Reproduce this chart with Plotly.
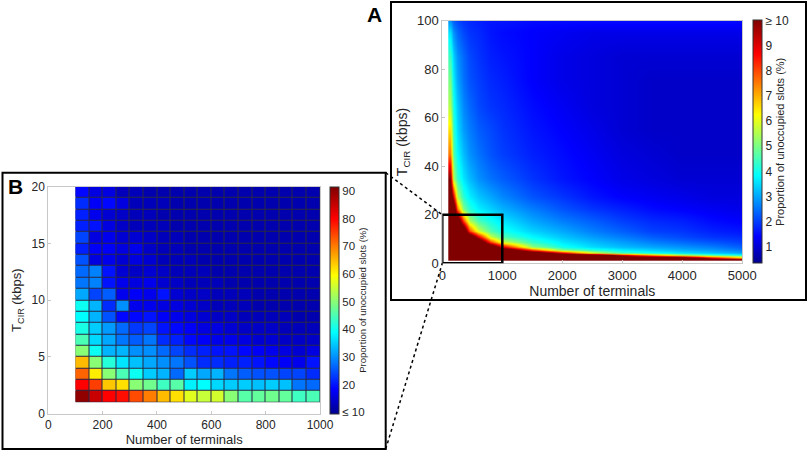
import plotly.graph_objects as go

# ---- panel A: overview (coarse read-out of the dense map) ----
a_terminals = [125, 175, 250, 350, 450, 600, 800, 1000, 1500, 2000, 2500, 3000, 3500, 4000, 4500, 5000]
a_rate = [1.5, 2.5, 3.5, 4.5, 5.5, 7, 9, 11, 13.5, 17.5, 22.5, 27.5, 35, 45, 55, 65, 75, 85, 95, 100]
a_unocc = [
    [12, 12, 12, 12, 12, 12, 12, 12, 12, 12, 12, 12, 12, 12, 12, 12],
    [12, 12, 12, 12, 12, 12, 12, 12, 12, 12, 12, 12, 12, 12, 9, 7],
    [12, 12, 12, 12, 12, 12, 12, 12, 12, 12, 12, 9, 7, 5.5, 4.5, 4],
    [12, 12, 12, 12, 12, 12, 12, 12, 12, 9, 6, 4.5, 4, 3.6, 3.3, 3],
    [12, 12, 12, 12, 12, 12, 12, 12, 8, 5, 4.2, 3.7, 3.4, 3.1, 2.9, 2.6],
    [12, 12, 12, 12, 12, 12, 12, 9, 5.2, 4, 3.5, 3.2, 3.0, 2.8, 2.6, 2.3],
    [12, 12, 12, 12, 12, 12, 8, 5.8, 4.3, 3.6, 3.2, 2.9, 2.6, 2.4, 2.2, 2.0],
    [12, 12, 12, 12, 12, 9, 5.8, 4.6, 3.8, 3.3, 2.9, 2.6, 2.3, 2.1, 1.9, 1.8],
    [12, 12, 12, 12, 8, 5.8, 4.6, 4.0, 3.4, 3.0, 2.6, 2.3, 2.0, 1.9, 1.7, 1.6],
    [12, 12, 12, 8, 5.5, 4.5, 4.0, 3.6, 3.0, 2.6, 2.3, 2.0, 1.8, 1.7, 1.5, 1.4],
    [12, 12, 7.5, 5, 4.2, 3.7, 3.4, 3.1, 2.6, 2.2, 1.9, 1.7, 1.5, 1.4, 1.3, 1.2],
    [12, 9, 5.5, 4.2, 3.7, 3.3, 3.0, 2.7, 2.2, 1.9, 1.6, 1.4, 1.3, 1.2, 1.1, 1.1],
    [10, 5.5, 4.3, 3.6, 3.2, 2.8, 2.5, 2.3, 1.9, 1.6, 1.4, 1.2, 1.1, 1.0, 1.0, 1.0],
    [7.5, 4.6, 3.8, 3.2, 2.8, 2.5, 2.2, 2.0, 1.7, 1.5, 1.3, 1.1, 1.0, 0.9, 0.9, 0.9],
    [6.5, 4.3, 3.5, 2.9, 2.6, 2.3, 2.1, 1.9, 1.6, 1.4, 1.2, 1.0, 0.9, 0.9, 0.9, 0.9],
    [5.5, 4.0, 3.3, 2.7, 2.4, 2.1, 1.9, 1.8, 1.5, 1.3, 1.1, 1.0, 0.9, 0.9, 0.9, 0.9],
    [5, 3.7, 3.0, 2.5, 2.2, 2.0, 1.8, 1.7, 1.4, 1.2, 1.1, 1.0, 0.9, 0.9, 0.9, 0.9],
    [4.4, 3.4, 2.8, 2.4, 2.1, 1.9, 1.7, 1.6, 1.4, 1.2, 1.1, 1.0, 1.0, 1.0, 1.0, 1.0],
    [3.6, 2.8, 2.4, 2.1, 1.9, 1.8, 1.6, 1.5, 1.4, 1.3, 1.2, 1.2, 1.2, 1.2, 1.2, 1.2],
    [2.8, 2.3, 2.1, 1.9, 1.8, 1.7, 1.6, 1.6, 1.5, 1.5, 1.5, 1.5, 1.5, 1.5, 1.5, 1.5],
]
a_ticks = [1, 2, 3, 4, 5, 6, 7, 8, 9, 10]
a_ticktext = ["1", "2", "3", "4", "5", "6", "7", "8", "9", "\u2265 10"]

# ---- panel B: zoom on 100-1000 terminals, 1-20 kbps ----
b_terminals = [125, 175, 225, 275, 325, 375, 425, 475, 525, 575, 625, 675, 725, 775, 825, 875, 925, 975]
b_rate = [1.5, 2.5, 3.5, 4.5, 5.5, 6.5, 7.5, 8.5, 9.5, 10.5, 11.5, 12.5, 13.5, 14.5, 15.5, 16.5, 17.5, 18.5, 19.5]
b_unocc = [
    [90, 85, 80, 79, 74, 70, 65, 62, 57, 55, 56, 50, 46, 47, 48, 47, 44, 45],
    [80, 75, 64, 62, 50, 48, 44, 46, 38, 39, 36, 35, 35, 34, 35, 34, 28, 27],
    [72, 61, 50, 45, 40, 35, 33, 27, 35, 32, 33, 28, 26, 25, 25, 24, 24, 22],
    [65, 50, 42, 37, 34, 32, 30, 28, 25, 22, 22, 21, 21, 20, 19, 18, 17, 20],
    [50, 40, 33, 33, 30, 30, 27, 24, 22, 21, 20, 20, 19, 18, 17, 16, 15, 16],
    [45, 36, 32, 28, 26, 28, 22, 21, 19, 18, 17, 17, 16, 15, 15, 14, 14, 14],
    [41, 35, 31, 27, 23, 24, 20, 19, 18, 16, 16, 15, 14, 14, 14, 13, 13, 13],
    [39, 33, 25, 19, 19, 20, 18, 17, 16, 15, 14, 14, 13, 13, 13, 13, 12, 12],
    [40, 33, 22, 30, 17, 17, 16, 16, 15, 14, 13, 13, 13, 12, 12, 12, 12, 12],
    [32, 24, 26, 17, 18, 17, 20, 15, 14, 14, 13, 13, 13, 12, 12, 12, 12, 12],
    [28, 29, 20, 17, 16, 17, 15, 14, 13, 13, 13, 12, 12, 12, 12, 12, 12, 12],
    [27, 29, 20, 15, 14, 15, 14, 13, 13, 13, 12, 12, 12, 12, 12, 12, 12, 12],
    [25, 16, 17, 15, 16, 15, 13, 13, 13, 12, 12, 12, 12, 12, 12, 12, 12, 12],
    [21, 18, 18, 16, 17, 14, 13, 13, 12, 12, 12, 12, 12, 12, 12, 12, 12, 12],
    [24, 16, 17, 15, 15, 14, 13, 13, 12, 12, 12, 12, 12, 12, 12, 12, 12, 12],
    [21, 20, 16, 14, 13, 13, 13, 12, 12, 12, 12, 12, 12, 12, 12, 12, 12, 12],
    [21, 17, 15, 14, 13, 13, 12, 12, 12, 12, 12, 12, 12, 12, 12, 12, 12, 12],
    [22, 18, 19, 16, 13, 13, 13, 12, 12, 12, 12, 12, 12, 12, 12, 12, 12, 12],
    [19, 16, 16, 13, 13, 12, 12, 12, 12, 12, 12, 12, 12, 12, 12, 12, 12, 12],
]
b_ticks = [10, 20, 30, 40, 50, 60, 70, 80, 90]
b_ticktext = ["\u2264 10", "20", "30", "40", "50", "60", "70", "80", "90"]

# matlab-ish jet
jet = [[0, "#00008F"], [0.11, "#0000FF"], [0.36, "#00FFFF"], [0.61, "#FFFF00"],
       [0.86, "#FF0000"], [1, "#800000"]]

W, H = 809, 452
FONT = "Arial, Liberation Sans, sans-serif"
TXT = "#262626"
AXC = "#c8c8c8"

# axes positions (paper fractions)
ax_a = [442.3 / W, 742.3 / W]
ay_a = [1 - 263.3 / H, 1 - 20.7 / H]
ax_b = [48.3 / W, 320 / W]
ay_b = [1 - 413.7 / H, 1 - 186.7 / H]

fig = go.Figure()

fig.add_trace(go.Heatmap(
    x=a_terminals, y=a_rate, z=a_unocc, zsmooth="best",
    colorscale=jet, zmin=0.35, zmax=10,
    xaxis="x", yaxis="y",
    colorbar=dict(
        x=753.3 / W, xanchor="left", xpad=0, y=ay_a[0], yanchor="bottom",
        len=ay_a[1] - ay_a[0], ypad=0, thickness=9, outlinecolor="#333", outlinewidth=1,
        tickvals=a_ticks, ticktext=a_ticktext, ticks="", tickfont=dict(size=12, color=TXT),
        title=dict(text="Proportion of unoccupied slots (%)", side="right",
                   font=dict(size=11, color=TXT)),
    ),
))

fig.add_trace(go.Heatmap(
    x=b_terminals, y=b_rate, z=b_unocc, xgap=1, ygap=1,
    colorscale=jet, zmin=9.5, zmax=91.5,
    xaxis="x2", yaxis="y2",
    colorbar=dict(
        x=330 / W, xanchor="left", xpad=0, y=ay_b[0], yanchor="bottom",
        len=ay_b[1] - ay_b[0], ypad=0, thickness=9, outlinecolor="#333", outlinewidth=1,
        tickvals=b_ticks, ticktext=b_ticktext, ticks="", tickfont=dict(size=11.5, color=TXT),
        title=dict(text="Proportion of unoccupied slots (%)", side="right",
                   font=dict(size=9.5, color=TXT)),
    ),
))

axis_common = dict(showline=True, mirror=True, linecolor=AXC, linewidth=1,
                   ticks="inside", ticklen=3, tickcolor=AXC, showgrid=False,
                   zeroline=False, color=TXT, automargin=False)

fig.update_layout(
    width=W, height=H, margin=dict(l=0, r=0, t=0, b=0, autoexpand=False),
    paper_bgcolor="white", plot_bgcolor="white",
    font=dict(family=FONT, color=TXT),
    showlegend=False,
    xaxis=dict(domain=ax_a, range=[0, 5000], tickvals=[0, 1000, 2000, 3000, 4000, 5000],
               tickfont=dict(size=13), anchor="y",
               title=dict(text="Number of terminals", font=dict(size=14), standoff=2),
               **axis_common),
    yaxis=dict(domain=ay_a, range=[0, 100], tickvals=[0, 20, 40, 60, 80, 100],
               tickfont=dict(size=13), anchor="x",
               title=dict(text="T<sub>CIR</sub> (kbps)", font=dict(size=14), standoff=6),
               **axis_common),
    xaxis2=dict(domain=ax_b, range=[0, 1000], tickvals=[0, 200, 400, 600, 800, 1000],
                tickfont=dict(size=12), anchor="y2",
                title=dict(text="Number of terminals", font=dict(size=13), standoff=2),
                **axis_common),
    yaxis2=dict(domain=ay_b, range=[0, 20], tickvals=[0, 5, 10, 15, 20],
                tickfont=dict(size=12), anchor="x2",
                title=dict(text="T<sub>CIR</sub> (kbps)", font=dict(size=13), standoff=6),
                **axis_common),
)

# dark backing under panel B cells so the gaps read as cell edges
fig.add_shape(type="rect", xref="x2", yref="y2", x0=100, x1=1000, y0=1, y1=20,
              fillcolor="rgb(40,40,70)", line=dict(width=0), layer="below")

# inset rectangle on panel A marking the zoomed region
fig.add_shape(type="rect", xref="x", yref="y", x0=0, x1=1000, y0=0, y1=20,
              line=dict(color="black", width=2.5))

# outer frames
fig.add_shape(type="rect", xref="paper", yref="paper", x0=391 / W, x1=806 / W,
              y0=1 - 300 / H, y1=1 - 2 / H, line=dict(color="black", width=2))
fig.add_shape(type="rect", xref="paper", yref="paper", x0=2.5 / W, x1=385.7 / W,
              y0=1 - 449 / H, y1=1 - 172.7 / H, line=dict(color="black", width=2))

# dotted connectors from the inset to frame B
inset_top = ay_a[0] + 0.2 * (ay_a[1] - ay_a[0])
fig.add_shape(type="line", xref="paper", yref="paper", x0=385.7 / W, y0=1 - 172.7 / H,
              x1=ax_a[0], y1=inset_top, line=dict(color="black", width=1.5, dash="dot"))
fig.add_shape(type="line", xref="paper", yref="paper", x0=385.7 / W, y0=1 - 449 / H,
              x1=ax_a[0], y1=ay_a[0], line=dict(color="black", width=1.5, dash="dot"))

# panel letters
fig.add_annotation(text="<b>A</b>", xref="paper", yref="paper", x=374.7 / W, y=1 - 15 / H,
                   xanchor="center", yanchor="middle",
                   showarrow=False, font=dict(size=21, color="black"))
fig.add_annotation(text="<b>B</b>", xref="paper", yref="paper", x=16 / W, y=1 - 187 / H,
                   xanchor="center", yanchor="middle",
                   showarrow=False, font=dict(size=21, color="black"))

# page body margin would shift the figure by 8px
fig.write_html("out.html", config={"displayModeBar": False},
               post_script="document.body.style.margin='0px';")
